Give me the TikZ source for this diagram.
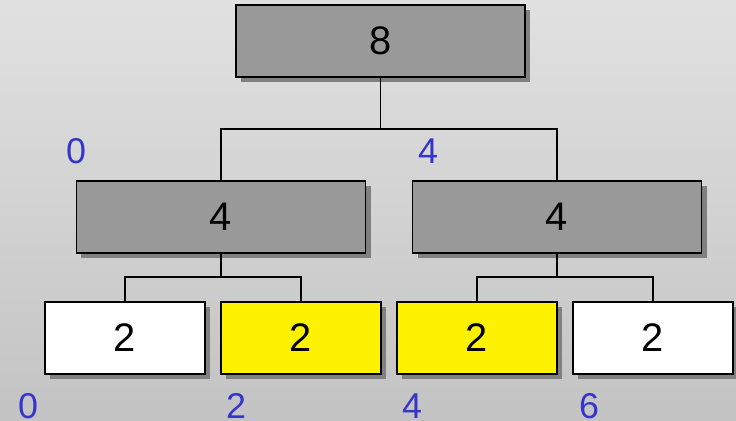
\documentclass[tikz,border=0pt]{standalone}
\usepackage{fontspec}
\setmainfont{Liberation Sans}
\usetikzlibrary{shadows}
\definecolor{bgtop}{HTML}{E1E1E1}
\definecolor{bgbot}{HTML}{C3C3C3}
\definecolor{boxgray}{HTML}{999999}
\definecolor{shad}{HTML}{808080}
\definecolor{lblue}{HTML}{3535CC}
\tikzset{
  box/.style={draw=black, line width=1.6bp, minimum height=72bp, inner sep=0pt,
    font=\fontsize{40}{40}\selectfont,
    drop shadow={shadow xshift=5bp, shadow yshift=-5bp, fill=shad, opacity=1}},
  bigbox/.style={box, minimum width=289bp},
  smallbox/.style={box, minimum width=160bp},
  conn/.style={draw=black, line width=1.3bp},
  idx/.style={text=lblue, font=\fontsize{36}{36}\selectfont, inner sep=0pt}
}
\begin{document}
\begin{tikzpicture}[x=1bp, y=-1bp]
\useasboundingbox (0,0) rectangle (736,420);
\shade[top color=bgtop, bottom color=bgbot] (0,0) rectangle (736,420);
\node[bigbox, fill=boxgray] (t) at (380.5,41) {8};
\node[bigbox, fill=boxgray] (m1) at (221,217) {4};
\node[bigbox, fill=boxgray] (m2) at (557,217) {4};
\node[smallbox, fill=white] (b1) at (125,338) {2};
\node[smallbox, fill=yellow] (b2) at (301,338) {2};
\node[smallbox, fill=yellow] (b3) at (477,338) {2};
\node[smallbox, fill=white] (b4) at (653,338) {2};
\coordinate (j1) at (380.5,129);
\coordinate (j2) at (221,277);
\coordinate (j3) at (557,277);
\draw[conn] (t.south) -- (j1);
\draw[conn] (m1.north) |- (j1) -| (m2.north);
\draw[conn] (m1.south) -- (j2);
\draw[conn] (b1.north) |- (j2) -| (b2.north);
\draw[conn] (m2.south) -- (j3);
\draw[conn] (b3.north) |- (j3) -| (b4.north);
\node[idx] (l0) at (76,151) {0};
\node[idx] (l4) at (428,151) {4};
\node[idx] (n0) at (28,406) {0};
\node[idx] (n2) at (236,406) {2};
\node[idx] (n4) at (412,406) {4};
\node[idx] (n6) at (589,406) {6};
\end{tikzpicture}
\end{document}
